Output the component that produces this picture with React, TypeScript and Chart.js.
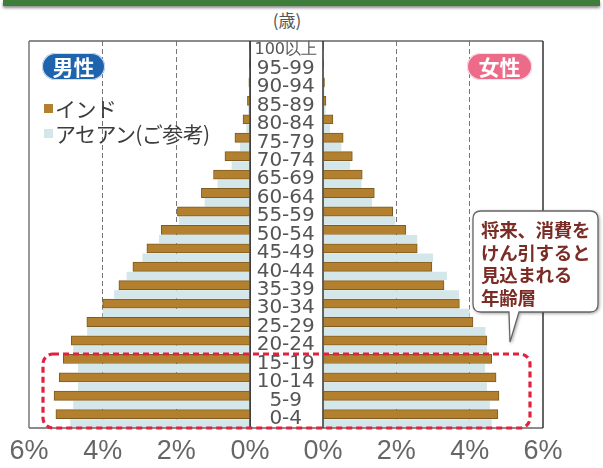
import React, { useEffect, useRef } from "react";
import { Chart, registerables } from "chart.js";

Chart.register(...registerables);

// ---- data (top row first) ----
const ageGroups = [
  "100以上", "95-99", "90-94", "85-89", "80-84", "75-79", "70-74", "65-69",
  "60-64", "55-59", "50-54", "45-49", "40-44", "35-39", "30-34", "25-29",
  "20-24", "15-19", "10-14", "5-9", "0-4",
];
const maleIndia = [
  0.01, 0.01, 0.03, 0.07, 0.19, 0.41, 0.68, 0.99, 1.32, 1.97, 2.41,
  2.8, 3.18, 3.56, 4.0, 4.43, 4.85, 5.07, 5.18, 5.32, 5.27,
];
const maleAsean = [
  0.0, 0.01, 0.03, 0.05, 0.1, 0.27, 0.5, 0.88, 1.23, 1.93, 2.47,
  2.92, 3.35, 3.69, 4.0, 4.42, 4.8, 4.67, 4.67, 4.8, 4.88,
];
const femaleIndia = [
  0.01, 0.02, 0.04, 0.08, 0.27, 0.55, 0.8, 1.07, 1.4, 1.9, 2.26,
  2.57, 2.97, 3.3, 3.72, 4.09, 4.47, 4.6, 4.72, 4.8, 4.77,
];
const femaleAsean = [
  0.01, 0.02, 0.04, 0.07, 0.19, 0.5, 0.74, 1.05, 1.34, 1.97, 2.57,
  3.0, 3.38, 3.71, 4.0, 4.43, 4.47, 4.42, 4.47, 4.55, 4.6,
];
const xTicks = [0, 2, 4, 6];
const seriesNames = ["インド", "アセアン(ご参考)"];
const unitLabel = "(歳)";
const maleLabel = "男性";
const femaleLabel = "女性";
const calloutLines = ["将来、消費を", "けん引すると", "見込まれる", "年齢層"];

// ---- styles ----
const INDIA_FILL = "#b3802f";
const INDIA_EDGE = "#7e5b1f";
const ASEAN_FILL = "#d3e6e9";
const JP = '"Noto Sans CJK JP", "Noto Sans", sans-serif';

const framePlugin = {
  id: "frame",
  afterDatasetsDraw(chart: any, _args: any, opts: any) {
    const { ctx, chartArea: a } = chart;
    const ext = opts.extendLeft || 0;
    ctx.save();
    ctx.lineWidth = 1.5;
    ctx.strokeStyle = "#666";
    ctx.beginPath();
    ctx.moveTo(a.left - ext, a.top);
    ctx.lineTo(a.right, a.top);
    ctx.moveTo(a.left - ext, a.bottom);
    ctx.lineTo(a.right, a.bottom);
    ctx.stroke();
    ctx.beginPath();
    ctx.strokeStyle = opts.outerColor || "#777";
    const outerX = opts.outer === "left" ? a.left : a.right;
    ctx.moveTo(outerX, a.top);
    ctx.lineTo(outerX, a.bottom);
    ctx.stroke();
    ctx.beginPath();
    ctx.strokeStyle = "#333";
    const innerX = opts.outer === "left" ? a.right : a.left;
    ctx.moveTo(innerX, a.top);
    ctx.lineTo(innerX, a.bottom);
    if (ext) {
      ctx.moveTo(a.left - ext, a.top);
      ctx.lineTo(a.left - ext, a.bottom);
    }
    ctx.stroke();
    ctx.restore();
  },
};

function buildConfig(side: "male" | "female"): any {
  const male = side === "male";
  return {
    type: "bar",
    data: {
      labels: ageGroups,
      datasets: [
        {
          label: seriesNames[0],
          data: male ? maleIndia : femaleIndia,
          backgroundColor: INDIA_FILL,
          borderColor: INDIA_EDGE,
          borderWidth: 1,
          categoryPercentage: 1.0,
          barPercentage: 1.0,
        },
        {
          label: seriesNames[1],
          data: male ? maleAsean : femaleAsean,
          backgroundColor: ASEAN_FILL,
          borderWidth: 0,
          categoryPercentage: 1.0,
          barPercentage: 0.9,
        },
      ],
    },
    options: {
      indexAxis: "y",
      animation: false,
      responsive: false,
      maintainAspectRatio: false,
      layout: {
        padding: male
          ? { left: 29, right: 50, top: 41, bottom: 0 }
          : { left: 0, right: 60, top: 41, bottom: 0 },
      },
      plugins: {
        legend: { display: false },
        tooltip: { enabled: false },
        frame: male ? { outer: "left", outerColor: "#777" } : { outer: "right", outerColor: "#333", extendLeft: 73 },
      },
      scales: {
        x: {
          type: "linear",
          min: 0,
          max: 6,
          reverse: male,
          afterBuildTicks: (axis: any) => {
            axis.ticks = xTicks.map((v) => ({ value: v }));
          },
          afterFit: (axis: any) => {
            axis.height = 40;
          },
          ticks: {
            callback: (v: any) => v + "%",
            font: { family: '"Liberation Sans", Arial, sans-serif', size: 27 },
            color: "#666",
            padding: 7,
            maxRotation: 0,
          },
          grid: {
            drawTicks: false,
            color: (c: any) =>
              c.tick && (c.tick.value === 2 || c.tick.value === 4) ? "#777" : "rgba(0,0,0,0)",
            lineWidth: 1,
          },
          border: { display: false, dash: [5, 3] },
        },
        y: male
          ? { type: "category", display: false }
          : {
              type: "category",
              position: "left",
              afterFit: (axis: any) => {
                axis.width = 73;
              },
              ticks: {
                autoSkip: false,
                crossAlign: "center",
                padding: 6,
                color: "#555",
                font: (c: any) => ({
                  family: '"DejaVu Sans", sans-serif',
                  size: c.index === 0 ? 16 : 20,
                  lineHeight: 1,
                }),
              },
              grid: { display: false, drawTicks: false },
              border: { display: false },
            },
      },
    },
    plugins: [framePlugin],
  };
}

function PyramidSide({ side, left, width }: { side: "male" | "female"; left: number; width: number }) {
  const ref = useRef<HTMLCanvasElement>(null);
  useEffect(() => {
    const chart = new Chart(ref.current as HTMLCanvasElement, buildConfig(side));
    return () => chart.destroy();
  }, [side]);
  return (
    <canvas
      ref={ref}
      width={width}
      height={468}
      style={{ position: "absolute", left, top: 0, width, height: 468 }}
    />
  );
}

export default function App() {
  const pill = (bg: string): React.CSSProperties => ({
    position: "absolute",
    top: 53,
    height: 27,
    background: bg,
    color: "#fff",
    borderRadius: 14,
    fontFamily: JP,
    fontWeight: 700,
    fontSize: 21,
    lineHeight: "27px",
    textAlign: "center",
    boxShadow: "0 0 0 1px rgba(255,255,255,0.8) inset",
  });
  return (
    <div
      style={{
        position: "fixed",
        left: 0,
        top: 0,
        width: 603,
        height: 468,
        background: "#fff",
        overflow: "hidden",
      }}
    >
      <div
        style={{
          position: "absolute",
          left: 3,
          right: 3,
          top: 0,
          height: 6,
          background: "#3e7d3a",
          boxShadow: "0 2px 3px rgba(0,0,0,0.45)",
        }}
      />
      <div
        style={{
          position: "absolute",
          left: 257,
          width: 60,
          top: 8,
          textAlign: "center",
          fontFamily: JP,
          fontSize: 17,
          color: "#555",
          lineHeight: "24px",
        }}
      >
        {unitLabel}
      </div>
      <PyramidSide side="male" left={0} width={300} />
      <PyramidSide side="female" left={250} width={353} />

      <div style={{ ...pill("#1d63ae"), left: 42, width: 63 }}>{maleLabel}</div>
      <div style={{ ...pill("#ec6b89"), left: 467, width: 65 }}>{femaleLabel}</div>

      {seriesNames.map((name, i) => (
        <div
          key={name}
          style={{
            position: "absolute",
            left: 44,
            top: 96 + i * 25,
            height: 24,
            display: "flex",
            alignItems: "center",
            fontFamily: JP,
            fontSize: 21,
            color: "#3d3d3d",
            letterSpacing: -0.6,
            whiteSpace: "nowrap",
          }}
        >
          <span
            style={{
              display: "inline-block",
              width: 9,
              height: 9,
              background: i === 0 ? INDIA_FILL : ASEAN_FILL,
              marginRight: 2,
            }}
          />
          {name}
        </div>
      ))}

      <svg
        width={603}
        height={468}
        style={{ position: "absolute", left: 0, top: 0, pointerEvents: "none" }}
      >
        <rect
          x={43}
          y={354}
          width={487}
          height={74}
          rx={10}
          ry={10}
          fill="none"
          stroke="#e2213d"
          strokeWidth={3.2}
          strokeDasharray="6 4"
        />
        <path
          d="M 483 211 H 590 Q 598 211 598 219 V 304 Q 598 312 590 312 H 519 L 510 342 L 509 312 H 481 Q 473 312 473 304 V 219 Q 473 211 481 211 Z"
          fill="#fff"
          stroke="#666"
          strokeWidth={1.3}
          style={{ filter: "drop-shadow(1px 1px 1.5px rgba(0,0,0,0.35))" }}
        />
      </svg>
      <div
        style={{
          position: "absolute",
          left: 481,
          top: 218,
          width: 120,
          fontFamily: JP,
          fontWeight: 700,
          fontSize: 18.5,
          lineHeight: "22.5px",
          color: "#7a2c25",
          whiteSpace: "nowrap",
          letterSpacing: -0.3,
        }}
      >
        {calloutLines.map((l) => (
          <div key={l}>{l}</div>
        ))}
      </div>
    </div>
  );
}
